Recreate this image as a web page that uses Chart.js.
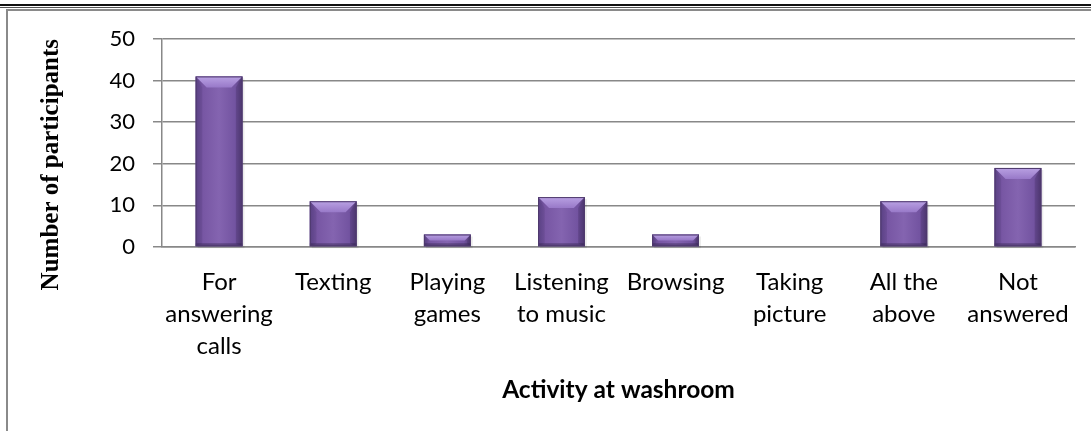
<!DOCTYPE html>
<html>
<head>
<meta charset="utf-8">
<script src="https://cdn.jsdelivr.net/npm/chart.js@4/dist/chart.umd.min.js"></script>
<style>
  html, body { margin: 0; padding: 0; background: #ffffff; }
  #wrap { position: relative; width: 1091px; height: 431px; overflow: hidden; background: #fff; }
  #topline { position: absolute; left: 0; top: 4px; width: 1091px; height: 1px; border-top: 2px solid #111; border-bottom: 1px solid #555; }
  #frame { position: absolute; left: 6px; top: 9px; width: 1200px; height: 600px;
           border-left: 2px solid #8a8a8a; border-top: 2px solid #8a8a8a; box-sizing: border-box; }
  canvas { position: absolute; left: 0; top: 0; }
</style>
</head>
<body>
<div id="wrap">
  <div id="topline"></div>
  <div id="frame"></div>
  <canvas id="c" width="1091" height="431"></canvas>
</div>
<script>
const categories = [
  ["For", "answering", "calls"],
  ["Texting"],
  ["Playing", "games"],
  ["Listening", "to music"],
  ["Browsing"],
  ["Taking", "picture"],
  ["All the", "above"],
  ["Not", "answered"]
];
const participants = [41, 11, 3, 12, 3, 0, 11, 19];
const yTicks = [0, 10, 20, 30, 40, 50];
const xTitle = "Activity at washroom";
const yTitle = "Number of participants";

const bevelPlugin = {
  id: 'bevel',
  afterDatasetsDraw(chart) {
    const ctx = chart.ctx;
    const meta = chart.getDatasetMeta(0);
    meta.data.forEach((bar) => {
      const x0 = bar.x - bar.width / 2, x1 = bar.x + bar.width / 2;
      const top = Math.min(bar.y, bar.base), bot = Math.max(bar.y, bar.base);
      const h = bot - top;
      if (h < 1) return;
      const w = x1 - x0;
      ctx.save();
      ctx.fillStyle = 'rgba(0,0,0,0.08)';
      ctx.fillRect(x0 + 2, top + 2, w, h);
      const g = ctx.createLinearGradient(x0, 0, x1, 0);
      g.addColorStop(0, '#5e4588');
      g.addColorStop(0.15, '#7756a3');
      g.addColorStop(0.5, '#8464b0');
      g.addColorStop(0.85, '#7253a0');
      g.addColorStop(1, '#533c75');
      ctx.fillStyle = g;
      ctx.fillRect(x0, top, w, h);
      const b = Math.min(11, h / 2);
      const gt = ctx.createLinearGradient(0, top, 0, top + b);
      gt.addColorStop(0, '#b9a1e3');
      gt.addColorStop(1, '#9879c8');
      ctx.fillStyle = gt;
      ctx.beginPath();
      ctx.moveTo(x0, top); ctx.lineTo(x1, top); ctx.lineTo(x1 - b, top + b); ctx.lineTo(x0 + b, top + b); ctx.closePath();
      ctx.fill();
      ctx.fillStyle = 'rgba(70,48,110,0.18)';
      ctx.beginPath();
      ctx.moveTo(x0, top); ctx.lineTo(x0 + b * 0.6, top + b); ctx.lineTo(x0 + b * 0.6, bot - Math.min(3, b)); ctx.lineTo(x0, bot); ctx.closePath();
      ctx.fill();
      ctx.fillStyle = 'rgba(50,34,80,0.22)';
      ctx.beginPath();
      ctx.moveTo(x1, top); ctx.lineTo(x1 - b * 0.6, top + b); ctx.lineTo(x1 - b * 0.6, bot - Math.min(3, b)); ctx.lineTo(x1, bot); ctx.closePath();
      ctx.fill();
      ctx.fillStyle = 'rgba(45,30,70,0.40)';
      ctx.fillRect(x0, bot - Math.min(3, b), w, Math.min(3, b));
      ctx.strokeStyle = '#4e3a6c';
      ctx.lineWidth = 1;
      ctx.strokeRect(x0 + 0.5, top + 0.5, w - 1, h - 1);
      ctx.restore();
    });
  }
};

new Chart(document.getElementById('c'), {
  type: 'bar',
  data: {
    labels: categories,
    datasets: [{
      data: participants,
      backgroundColor: '#7a58a6',
      borderWidth: 0,
      barPercentage: 0.41,
      categoryPercentage: 1.0
    }]
  },
  options: {
    responsive: false,
    animation: false,
    events: [],
    layout: { padding: { left: 0, right: 16, top: 39, bottom: 0 } },
    plugins: { legend: { display: false }, tooltip: { enabled: false } },
    scales: {
      x: {
        afterFit(s) { s.height = 184; },
        grid: { display: false, drawTicks: false },
        border: { display: true, color: '#888888', width: 1.5 },
        ticks: {
          color: '#000000',
          padding: 19,
          maxRotation: 0,
          autoSkip: false,
          font: { family: 'Lato', size: 24, lineHeight: 1.33 }
        },
        title: {
          display: true,
          text: xTitle,
          color: '#000000',
          font: { family: 'Lato', size: 24.5, weight: 'bold', lineHeight: 1.2 },
          padding: { top: 0, bottom: 26 }
        }
      },
      y: {
        min: 0,
        max: 50,
        afterFit(s) { s.width = 162; },
        afterBuildTicks(s) { s.ticks = yTicks.map(v => ({ value: v })); },
        grid: { color: '#888888', lineWidth: 1.5, drawTicks: true, tickLength: 9, tickColor: '#888888' },
        border: { display: true, color: '#888888', width: 1.5 },
        ticks: {
          color: '#000000',
          padding: 18,
          font: { family: 'Lato', size: 22 }
        },
        title: {
          display: true,
          text: yTitle,
          align: 'end',
          color: '#000000',
          font: { family: 'Liberation Serif', size: 25, weight: 'bold', lineHeight: 1.2 },
          padding: { top: 37, bottom: 0 }
        }
      }
    }
  },
  plugins: [bevelPlugin]
});
</script>
</body>
</html>
